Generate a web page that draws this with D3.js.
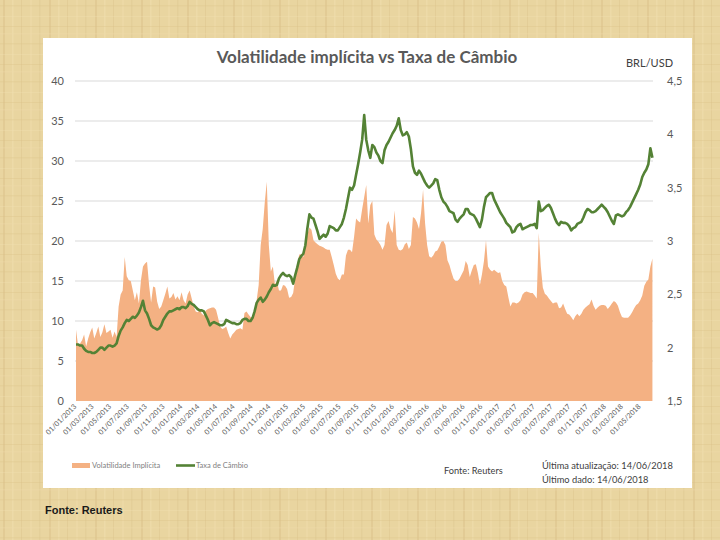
<!DOCTYPE html>
<html><head><meta charset="utf-8">
<script src="https://cdn.jsdelivr.net/npm/d3@7"></script>
<style>html,body{margin:0;padding:0;background:#e6d09a;}svg{display:block;}</style>
</head><body>
<svg id="c" width="720" height="540"></svg>
<script>
// ---- data (weekly, starting 01/01/2013) ----
const startDay = "2013-01-01";
const volValues = [
8.9,7.0,7.2,7.6,8.3,6.8,7.8,8.6,9.2,7.8,
8.5,9.3,8.0,8.6,9.6,8.5,8.7,8.9,7.9,8.7,
8.0,11.8,13.3,13.8,18.0,15.6,15.1,15.0,13.8,12.6,
13.6,12.2,15.1,16.8,17.2,17.4,14.5,12.3,14.3,14.2,
12.4,11.5,11.8,12.6,13.4,14.3,12.8,13.0,13.5,12.7,
13.1,12.6,13.6,12.6,12.2,13.3,13.8,12.8,11.8,11.2,
11.1,11.4,10.9,10.7,11.3,11.5,11.6,11.7,11.7,11.4,
10.4,9.3,9.0,9.1,9.3,8.5,7.8,8.3,8.6,8.9,
9.0,9.1,8.9,11.0,11.2,10.8,10.5,10.3,11.2,12.6,
14.5,19.5,21.5,24.8,27.4,19.5,16.2,16.8,14.6,15.0,
13.8,13.8,14.5,14.4,14.0,12.9,13.0,13.5,15.4,17.1,
18.3,18.3,18.0,19.3,20.8,21.7,21.4,20.1,19.8,19.6,
19.4,19.3,19.2,19.0,18.9,18.9,18.0,17.0,15.9,15.3,
15.1,15.8,15.8,18.2,18.9,18.9,18.6,20.5,22.8,22.5,
22.3,24.0,25.5,27.0,22.2,24.5,25.0,20.8,20.2,19.9,
19.5,18.9,19.5,22.0,22.5,21.5,21.0,23.8,19.5,18.9,
18.8,19.0,19.6,19.8,19.0,19.5,23.0,22.8,22.3,21.5,
23.5,26.4,22.2,19.5,18.1,17.9,18.2,18.7,18.8,19.3,
19.9,20.0,19.5,17.6,17.0,16.1,15.3,15.0,15.0,15.3,
15.8,16.3,17.5,17.0,15.5,16.3,17.0,17.1,16.0,14.5,
15.8,17.5,20.1,16.8,16.4,16.2,16.4,16.2,16.0,16.1,
15.0,14.5,14.3,13.0,11.8,12.3,12.3,12.2,12.3,12.6,
13.3,13.6,13.7,13.6,13.5,13.5,13.2,12.8,21.0,16.8,
14.2,13.4,13.2,12.8,12.5,12.2,12.3,12.3,11.6,11.7,
12.2,11.5,10.9,10.8,10.5,10.1,10.6,10.9,10.6,10.9,
11.4,11.7,11.9,12.1,12.7,11.9,11.4,11.7,11.9,12.0,
12.0,11.9,11.5,11.8,12.2,12.5,12.3,11.9,11.1,10.5,
10.4,10.4,10.4,10.7,11.1,11.6,12.0,12.2,12.6,13.2,
14.4,14.9,15.2,16.8,17.8
];
const fxValues = [
2.03,2.03,2.02,2.02,1.99,1.97,1.96,1.96,1.95,1.95,
1.96,1.98,2.00,2.00,1.98,2.00,2.02,2.02,2.01,2.02,
2.04,2.11,2.16,2.19,2.23,2.26,2.25,2.27,2.29,2.28,
2.30,2.33,2.38,2.44,2.35,2.32,2.27,2.21,2.19,2.18,
2.17,2.18,2.21,2.26,2.29,2.32,2.34,2.34,2.35,2.36,
2.37,2.36,2.38,2.38,2.37,2.39,2.43,2.41,2.40,2.38,
2.36,2.35,2.35,2.34,2.30,2.26,2.21,2.23,2.24,2.23,
2.22,2.21,2.21,2.22,2.26,2.25,2.24,2.23,2.23,2.22,
2.22,2.23,2.26,2.27,2.27,2.25,2.25,2.28,2.34,2.42,
2.45,2.47,2.43,2.45,2.48,2.52,2.55,2.59,2.58,2.59,
2.65,2.68,2.70,2.68,2.67,2.68,2.66,2.60,2.68,2.75,
2.83,2.86,2.88,2.96,3.12,3.25,3.22,3.21,3.15,3.09,
3.02,3.04,3.06,3.04,3.07,3.14,3.13,3.12,3.10,3.10,
3.13,3.16,3.22,3.30,3.40,3.50,3.48,3.52,3.62,3.72,
3.83,3.95,4.18,3.95,3.85,3.78,3.90,3.88,3.83,3.80,
3.75,3.73,3.85,3.90,3.93,3.97,4.01,4.04,4.08,4.15,
4.04,3.99,4.00,4.02,3.98,3.86,3.70,3.64,3.62,3.66,
3.63,3.59,3.55,3.52,3.50,3.52,3.54,3.58,3.57,3.48,
3.41,3.37,3.35,3.32,3.28,3.27,3.26,3.20,3.18,3.21,
3.23,3.25,3.30,3.30,3.26,3.25,3.24,3.21,3.17,3.13,
3.20,3.32,3.41,3.43,3.45,3.45,3.39,3.35,3.31,3.27,
3.24,3.21,3.17,3.15,3.13,3.08,3.09,3.13,3.15,3.16,
3.11,3.12,3.13,3.14,3.15,3.15,3.16,3.12,3.37,3.28,
3.29,3.31,3.33,3.34,3.31,3.26,3.21,3.17,3.15,3.18,
3.17,3.17,3.16,3.14,3.10,3.12,3.13,3.16,3.17,3.18,
3.22,3.27,3.30,3.29,3.27,3.27,3.28,3.30,3.32,3.34,
3.32,3.30,3.27,3.23,3.19,3.16,3.24,3.25,3.24,3.23,
3.24,3.27,3.29,3.32,3.36,3.40,3.44,3.48,3.53,3.60,
3.64,3.67,3.72,3.87,3.78
];
const leftTicks = [0,5,10,15,20,25,30,35,40];
const rightTicks = [1.5,2,2.5,3,3.5,4,4.5];
const xTickLabels = [
"01/01/2013","01/03/2013","01/05/2013","01/07/2013","01/09/2013","01/11/2013",
"01/01/2014","01/03/2014","01/05/2014","01/07/2014","01/09/2014","01/11/2014",
"01/01/2015","01/03/2015","01/05/2015","01/07/2015","01/09/2015","01/11/2015",
"01/01/2016","01/03/2016","01/05/2016","01/07/2016","01/09/2016","01/11/2016",
"01/01/2017","01/03/2017","01/05/2017","01/07/2017","01/09/2017","01/11/2017",
"01/01/2018","01/03/2018","01/05/2018"
];
const domainDates = ["2013-01-01","2018-06-14"];
const titleText = "Volatilidade implícita vs Taxa de Câmbio";
const seriesNames = ["Volatilidade Implícita","Taxa de Câmbio"];

// ---- drawing ----
const svg = d3.select("#c");
const font = "Lato, 'Open Sans', sans-serif";
const parseISO = d3.timeParse("%Y-%m-%d");
const parseBR = d3.timeParse("%d/%m/%Y");
const d0 = parseISO(startDay);
const dates = volValues.map((_, i) => d3.timeDay.offset(d0, i * 7));

// parchment background
const defs = svg.append("defs");
const pat = defs.append("pattern").attr("id","tex").attr("patternUnits","userSpaceOnUse")
  .attr("width",46).attr("height",38);
pat.append("rect").attr("width",46).attr("height",38).attr("fill","#e9d5a0");
[[3,"#d9c088",2],[12,"#f2e0b2",1.5],[21,"#dcc38b",1],[30,"#f0dcab",2],[39,"#dfc790",1.5]].forEach(([x,c,w])=>{
  pat.append("rect").attr("x",x).attr("y",0).attr("width",w).attr("height",38).attr("fill",c).attr("opacity",0.45);
});
[[5,"#dcc48b",1.5],[16,"#f1dfb1",1],[26,"#d9c086",1],[33,"#eedaa8",1.5]].forEach(([y,c,h])=>{
  pat.append("rect").attr("x",0).attr("y",y).attr("width",46).attr("height",h).attr("fill",c).attr("opacity",0.35);
});
svg.append("rect").attr("width",720).attr("height",540).attr("fill","url(#tex)");

// white panel
svg.append("rect").attr("x",43).attr("y",38).attr("width",649).attr("height",450).attr("fill","#ffffff");

const x = d3.scaleTime().domain(domainDates.map(parseISO)).range([76, 653]);
const yL = d3.scaleLinear().domain([0, 40]).range([401, 81]);
const yR = d3.scaleLinear().domain([1.5, 4.5]).range([401, 81]);

// gridlines
svg.append("g").selectAll("line").data(leftTicks.filter(d=>d>0)).join("line")
  .attr("x1",75).attr("x2",653).attr("y1",d=>yL(d)).attr("y2",d=>yL(d))
  .attr("stroke","#d9d9d9").attr("stroke-width",1);

// area
const area = d3.area().x((d,i)=>x(dates[i])).y0(yL(0)).y1(d=>yL(d));
svg.append("path").datum(volValues).attr("d",area).attr("fill","#f4b183");

// line
const line = d3.line().x((d,i)=>x(dates[i])).y(d=>yR(d));
svg.append("path").datum(fxValues).attr("d",line).attr("fill","none")
  .attr("stroke","#548235").attr("stroke-width",2.6).attr("stroke-linejoin","round");

// left axis labels
svg.append("g").selectAll("text").data(leftTicks).join("text")
  .attr("x",64).attr("y",d=>yL(d)+4).attr("text-anchor","end")
  .attr("font-family",font).attr("font-size",11).attr("fill","#595959").text(d=>d);

// right axis labels
const fmtR = d => String(d).replace(".", ",");
svg.append("g").selectAll("text").data(rightTicks).join("text")
  .attr("x",667).attr("y",d=>yR(d)+4).attr("text-anchor","start")
  .attr("font-family",font).attr("font-size",11).attr("fill","#595959").text(fmtR);

// x tick labels
svg.append("g").selectAll("text").data(xTickLabels).join("text")
  .attr("transform",d=>`translate(${x(parseBR(d))+1},${407}) rotate(-45)`)
  .attr("text-anchor","end").attr("font-family",font).attr("font-size",7.2)
  .attr("fill","#595959").text(d=>d);

// title
svg.append("text").attr("x",367).attr("y",63).attr("text-anchor","middle")
  .attr("font-family",font).attr("font-weight","bold").attr("font-size",17)
  .attr("fill","#595959").text(titleText);
svg.append("text").attr("x",626).attr("y",67).attr("font-family",font)
  .attr("font-size",11).attr("fill","#404040").text("BRL/USD");

// legend
svg.append("rect").attr("x",72).attr("y",463).attr("width",18).attr("height",5).attr("fill","#f4b183");
svg.append("text").attr("x",92).attr("y",468).attr("font-family",font).attr("font-size",7.5)
  .attr("fill","#808080").text(seriesNames[0]);
svg.append("line").attr("x1",176).attr("x2",195).attr("y1",465.5).attr("y2",465.5)
  .attr("stroke","#548235").attr("stroke-width",2.6);
svg.append("text").attr("x",196).attr("y",468).attr("font-family",font).attr("font-size",7.5)
  .attr("fill","#808080").text(seriesNames[1]);

// notes
svg.append("text").attr("x",444).attr("y",474).attr("font-family",font).attr("font-size",9.2)
  .attr("fill","#404040").text("Fonte: Reuters");
svg.append("text").attr("x",542).attr("y",469).attr("font-family",font).attr("font-size",9.3)
  .attr("fill","#404040").text("Última atualização: 14/06/2018");
svg.append("text").attr("x",542).attr("y",483).attr("font-family",font).attr("font-size",9.3)
  .attr("fill","#404040").text("Último dado: 14/06/2018");

// outside caption
svg.append("text").attr("x",45).attr("y",514).attr("font-family","'Liberation Sans', Arial, sans-serif")
  .attr("font-weight","bold").attr("font-size",11).attr("fill","#1a1a1a").text("Fonte: Reuters");
</script>
</body></html>
